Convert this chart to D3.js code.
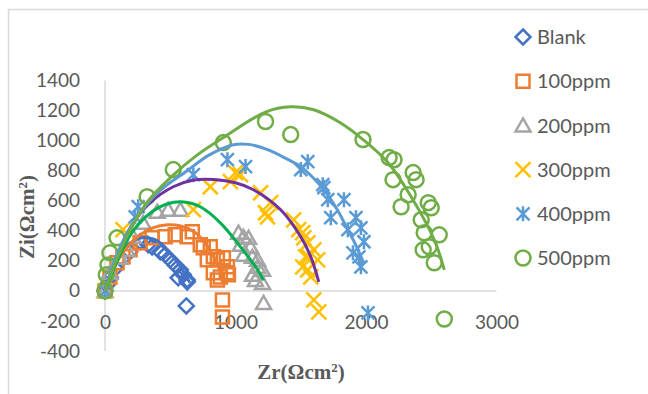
<!DOCTYPE html>
<html>
<head>
<meta charset="utf-8">
<script src="https://cdn.jsdelivr.net/npm/d3@7"></script>
<style>
body { margin: 0; background: #fff; }
text { font-family: Lato, "Open Sans", sans-serif; fill: #595959; }
.title { font-family: "Liberation Serif", serif; font-weight: bold; }
</style>
</head>
<body>
<div id="app"></div>
<script>
// ---------- Data (Zr, Zi) ----------

const seriesNames = ["Blank", "100ppm", "200ppm", "300ppm", "400ppm", "500ppm"];

const blankPts = [[0,0],[15,40],[40,90],[80,150],[130,210],[190,260],[269,327],[331,307],[361,293],
  [423,260],[461,240],[500,207],[538,173],[577,140],[600,107],[630,73],[561,87],[630,60],[623,-100]];
const ppm100Pts = [[0,0],[38,93],[92,187],[138,227],[192,273],[269,320],[361,353],[461,360],[538,373],
  [630,360],[669,393],[730,307],[753,287],[807,293],[830,227],[784,207],[861,207],[907,220],[938,160],
  [830,120],[938,120],[884,93],[861,73],[946,107],[900,-60],[900,-173]];
const ppm200Pts = [[0,0],[38,120],[115,220],[169,273],[215,360],[292,453],[400,527],[484,540],[577,540],
  [1023,387],[1061,360],[1100,353],[1038,307],[1115,293],[1061,240],[1130,227],[1169,207],[1169,160],
  [1207,140],[1130,107],[1153,73],[1207,53],[1215,-80]];
const ppm300Pts = [[0,0],[138,407],[677,540],[807,693],[961,727],[1000,787],[1038,773],[1192,653],
  [1230,520],[1246,493],[1269,587],[1446,473],[1484,407],[1515,387],[1523,353],[1554,320],[1600,273],
  [1630,207],[1561,227],[1538,227],[1515,160],[1554,140],[1577,93],[1600,-60],[1638,-140]];
const ppm400Pts = [[0,0],[231,493],[254,560],[677,773],[938,873],[1077,827],[1500,807],[1554,860],
  [1669,707],[1677,687],[1707,607],[1831,607],[1730,487],[1923,487],[1861,407],[1961,420],[1984,327],
  [1900,253],[1946,227],[1961,160],[2015,-147]];
const ppm500Pts = [[0,0],[10,107],[23,173],[38,253],[92,353],[323,627],[523,807],[907,987],[1230,1127],
  [1423,1040],[1977,1007],[2177,887],[2215,873],[2207,740],[2361,787],[2384,740],[2323,640],[2269,560],
  [2477,587],[2500,553],[2423,473],[2446,387],[2561,373],[2438,273],[2485,293],[2523,187],[2600,-187]];

// trendlines
const blankFit = [[0,0],[40,110],[100,220],[170,300],[270,352],[370,345],[450,300],[530,220],[600,130],[650,55]];
const ppm100Fit = [[0,0],[60,140],[150,270],[250,360],[350,415],[480,440],[580,432],[680,395],[784,300],[850,200],[907,75]];
const ppm200Fit = [[0,0],[80,170],[200,380],[350,520],[480,580],[600,592],[730,560],[884,453],[1038,293],[1169,140],[1215,70]];
const ppm300Fit = [[0,0],[100,250],[200,430],[346,587],[523,693],[680,738],[831,742],[1000,720],[1138,673],[1346,540],[1500,360],[1577,227],[1638,60]];
const ppm400Fit = [[0,0],[100,260],[230,470],[400,650],[630,800],[800,905],[984,973],[1100,975],[1246,940],[1400,875],[1500,827],[1677,673],[1780,540],[1861,407],[1930,290],[1984,180]];
const ppm500Fit = [[0,0],[150,330],[323,590],[523,770],[700,900],[907,1020],[1230,1190],[1423,1225],[1600,1205],[1800,1120],[1977,1007],[2169,853],[2346,627],[2523,340],[2600,140]];

const xTicks = [0, 1000, 2000, 3000];
const yTicks = [-400, -200, 0, 200, 400, 600, 800, 1000, 1200, 1400];

// ---------- Setup ----------

const WIDTH = 648, HEIGHT = 394;
const shapes = ["diamond", "square", "triangle", "x", "star", "circle"];
const markerColors = ["#4472C4", "#ED7D31", "#A5A5A5", "#FFC000", "#5B9BD5", "#70AD47"];
const fitColors = ["#4472C4", "#ED7D31", "#00B050", "#7030A0", "#5B9BD5", "#70AD47"];
const allPts = [blankPts, ppm100Pts, ppm200Pts, ppm300Pts, ppm400Pts, ppm500Pts];
const allFits = [blankFit, ppm100Fit, ppm200Fit, ppm300Fit, ppm400Fit, ppm500Fit];

// plain integer labels with an ascii minus, like Excel
const plainNum = (d) => String(d);

// path for one marker, centred on 0,0
function markerPath(shape) {
    const s = 7.5;
    switch (shape) {
        case "diamond": return `M0,${-s}L${s},0L0,${s}L${-s},0Z`;
        case "square": return "M-6.5,-6.5h13v13h-13Z";
        case "triangle": return "M0,-7L7.5,6L-7.5,6Z";
        case "x": return `M${-s},${-s}L${s},${s}M${-s},${s}L${s},${-s}`;
        case "star": return "M-6.5,-6.5L6.5,6.5M-6.5,6.5L6.5,-6.5M0,-7.5L0,7.5";
        default: return `M${s},0A${s},${s} 0 1 1 ${-s},0A${s},${s} 0 1 1 ${s},0Z`;
    }
}

const svg = d3.select("#app").append("svg")
    .attr("width", WIDTH)
    .attr("height", HEIGHT);

// chart border
svg.append("rect")
    .attr("x", 8.5).attr("y", 9.5)
    .attr("width", WIDTH + 10).attr("height", HEIGHT + 10)
    .attr("fill", "none")
    .attr("stroke", "#d9d9d9")
    .attr("stroke-width", 1.5);

const x = d3.scaleLinear().domain([0, 3000]).range([105, 496.5]);
const y = d3.scaleLinear().domain([-400, 1400]).range([351, 80.5]);

// ---------- Axes ----------

svg.append("line")
    .attr("x1", x(0)).attr("x2", x(3000))
    .attr("y1", y(0)).attr("y2", y(0))
    .attr("stroke", "#d9d9d9").attr("stroke-width", 1.5);
svg.append("line")
    .attr("x1", x(0)).attr("x2", x(0))
    .attr("y1", y(1400)).attr("y2", y(-400))
    .attr("stroke", "#d9d9d9").attr("stroke-width", 1.5);

const yAxis = svg.append("g")
    .attr("transform", `translate(${x(0)},0)`)
    .call(d3.axisLeft(y).tickValues(yTicks).tickFormat(plainNum).tickSize(0).tickPadding(25));
yAxis.select(".domain").remove();
yAxis.selectAll("text").style("font-size", "19px").attr("fill", "#595959");

const xAxis = svg.append("g")
    .attr("transform", "translate(0,315)")
    .call(d3.axisBottom(x).tickValues(xTicks).tickFormat(plainNum).tickSize(0).tickPadding(0));
xAxis.select(".domain").remove();
xAxis.selectAll("text").style("font-size", "19px").attr("fill", "#595959");

// axis titles
const yTitle = svg.append("text")
    .attr("class", "title")
    .attr("transform", "translate(34,217) rotate(-90)")
    .attr("text-anchor", "middle")
    .style("font-size", "21px");
yTitle.append("tspan").text("Zi(Ωcm");
yTitle.append("tspan").attr("baseline-shift", "super").style("font-size", "13px").text("2");
yTitle.append("tspan").text(")");

const xTitle = svg.append("text")
    .attr("class", "title")
    .attr("x", 301).attr("y", 379)
    .attr("text-anchor", "middle")
    .style("font-size", "21px");
xTitle.append("tspan").text("Zr(Ωcm");
xTitle.append("tspan").attr("baseline-shift", "super").style("font-size", "13px").text("2");
xTitle.append("tspan").text(")");

// ---------- Markers ----------

allPts.forEach((pts, i) => {
    svg.append("g")
        .selectAll("path")
        .data(pts)
        .enter()
        .append("path")
        .attr("transform", (d) => `translate(${x(d[0])},${y(d[1])})`)
        .attr("d", markerPath(shapes[i]))
        .attr("fill", "none")
        .attr("stroke", markerColors[i])
        .attr("stroke-width", 2.5);
});

// ---------- Trendlines ----------

const line = d3.line()
    .x((d) => x(d[0]))
    .y((d) => y(d[1]))
    .curve(d3.curveCatmullRom);

allFits.forEach((fit, i) => {
    svg.append("path")
        .datum(fit)
        .attr("d", line)
        .attr("fill", "none")
        .attr("stroke", fitColors[i])
        .attr("stroke-width", 3);
});

// ---------- Legend ----------

const legend = svg.append("g")
    .selectAll("g")
    .data(seriesNames)
    .enter()
    .append("g")
    .attr("transform", (d, i) => `translate(523,${37 + i * 44.2})`);
legend.append("path")
    .attr("d", (d, i) => markerPath(shapes[i]))
    .attr("fill", "none")
    .attr("stroke", (d, i) => markerColors[i])
    .attr("stroke-width", 2.5);
legend.append("text")
    .attr("x", 14)
    .attr("dy", "0.36em")
    .style("font-size", "20px")
    .text((d) => d);
</script>
</body>
</html>
